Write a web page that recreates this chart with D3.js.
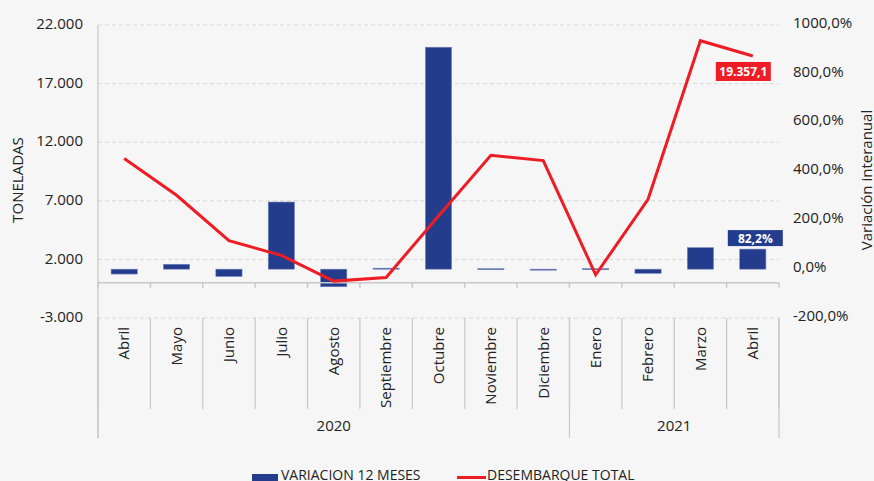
<!DOCTYPE html>
<html>
<head>
<meta charset="utf-8">
<script src="https://cdn.jsdelivr.net/npm/d3@7"></script>
<style>
  body { margin: 0; background: #f6f6f6; }
  svg { display: block; font-family: "Open Sans", sans-serif; }
</style>
</head>
<body>
<div id="chart"></div>
<script>
// data
const months = ["Abril", "Mayo", "Junio", "Julio", "Agosto", "Septiembre", "Octubre",
  "Noviembre", "Diciembre", "Enero", "Febrero", "Marzo", "Abril"];
const years = ["2020", "2021"];
const yearCounts = [9, 4];
const variacion = [-20, 20, -30, 275, -72, 4, 909, 2, -3, 2, -17, 88, 82.2];   // %
const desembarque = [10607, 7470, 3598, 2342, 148, 462, 5700, 10889, 10433, 689, 7128, 20661, 19357.1]; // toneladas
const leftTicks = [-3000, 2000, 7000, 12000, 17000, 22000];
const rightTicks = [-200, 0, 200, 400, 600, 800, 1000];

const width = 874;
const height = 481;
const plotL = 98, plotR = 779, plotT = 25, plotB = 318;

const loc = d3.formatLocale({decimal: ",", thousands: ".", grouping: [3], currency: ["", ""], minus: "-"});
const fmtTon = loc.format(",.0f");
const fmtPct = loc.format(".1f");
const fmtTonLabel = loc.format(",.1f");

const svg = d3.select("#chart")
  .append("svg")
  .attr("width", width)
  .attr("height", height);

svg.append("rect").attr("width", width).attr("height", height).attr("fill", "#f6f6f6");

const xScale = d3.scaleBand()
  .domain(d3.range(months.length))
  .range([plotL, plotR]);

const yLeft = d3.scaleLinear()
  .domain([-3000, 22000])
  .range([plotB, plotT]);

const yRight = d3.scaleLinear()
  .domain([-200, 1000])
  .range([plotB, plotT]);

// gridlines
svg.append("g")
  .selectAll("line")
  .data(leftTicks)
  .join("line")
  .attr("x1", plotL)
  .attr("x2", plotR)
  .attr("y1", d => yLeft(d))
  .attr("y2", d => yLeft(d))
  .attr("stroke", "#d8d8d8")
  .attr("stroke-dasharray", "4,3");

// left axis
const gLeft = svg.append("g")
  .attr("transform", `translate(${plotL},0)`)
  .call(d3.axisLeft(yLeft).tickValues(leftTicks).tickFormat(fmtTon).tickSize(0).tickPadding(15));
gLeft.select(".domain").remove();
gLeft.selectAll("text").attr("font-size", 15).attr("fill", "#222").attr("font-family", "Open Sans").attr("dy", "0.25em");

// right axis
const gRight = svg.append("g")
  .attr("transform", `translate(${plotR},0)`)
  .call(d3.axisRight(yRight).tickValues(rightTicks).tickFormat(d => fmtPct(d) + "%").tickSize(0).tickPadding(14));
gRight.select(".domain").remove();
gRight.selectAll("text").attr("font-size", 15).attr("fill", "#222").attr("font-family", "Open Sans").attr("dy", "0.15em");

// axis titles
svg.append("text")
  .attr("transform", `translate(23,180) rotate(-90)`)
  .attr("text-anchor", "middle")
  .attr("font-size", 15)
  .attr("fill", "#222")
  .text("TONELADAS");

svg.append("text")
  .attr("transform", `translate(872,180) rotate(-90)`)
  .attr("text-anchor", "middle")
  .attr("font-size", 15)
  .attr("fill", "#222")
  .text("Variación interanual");

// bars
const barW = xScale.bandwidth() * 0.5;
svg.append("g")
  .selectAll("rect")
  .data(variacion)
  .join("rect")
  .attr("x", (d, i) => xScale(i) + (xScale.bandwidth() - barW) / 2)
  .attr("y", d => yRight(Math.max(0, d)))
  .attr("width", barW)
  .attr("height", d => Math.max(1, Math.abs(yRight(d) - yRight(0))))
  .attr("fill", "#233d8c")
  .attr("stroke", "#7686bd")
  .attr("stroke-width", 0.6);

// category axis
const y0 = yLeft(0);
svg.append("line")
  .attr("x1", plotL).attr("x2", plotR)
  .attr("y1", y0).attr("y2", y0)
  .attr("stroke", "#c8c8c8").attr("stroke-width", 1.5);

const bounds = d3.range(months.length + 1).map(i => i < months.length ? xScale(i) : plotR);
svg.append("g")
  .selectAll("line")
  .data(bounds)
  .join("line")
  .attr("x1", d => d).attr("x2", d => d)
  .attr("y1", y0).attr("y2", y0 + 5)
  .attr("stroke", "#c8c8c8").attr("stroke-width", 1.5);

// month separators below the plot
svg.append("g")
  .selectAll("line")
  .data(bounds)
  .join("line")
  .attr("x1", d => d).attr("x2", d => d)
  .attr("y1", plotB).attr("y2", 409)
  .attr("stroke", "#c8c8c8").attr("stroke-width", 1.2);

// year separators
let acc = 0;
const yearBounds = [plotL];
yearCounts.forEach(c => { acc += c; yearBounds.push(acc < months.length ? xScale(acc) : plotR); });
svg.append("g")
  .selectAll("line")
  .data(yearBounds)
  .join("line")
  .attr("x1", d => d).attr("x2", d => d)
  .attr("y1", plotB).attr("y2", 438)
  .attr("stroke", "#c8c8c8").attr("stroke-width", 1.2);

// left axis line
svg.append("line")
  .attr("x1", plotL).attr("x2", plotL)
  .attr("y1", plotT).attr("y2", 438)
  .attr("stroke", "#c8c8c8").attr("stroke-width", 1.2);

// month labels
svg.append("g")
  .selectAll("text")
  .data(months)
  .join("text")
  .attr("transform", (d, i) => `translate(${xScale(i) + xScale.bandwidth() / 2},327) rotate(-90)`)
  .attr("text-anchor", "end")
  .attr("dy", "0.35em")
  .attr("font-size", 15)
  .attr("fill", "#222")
  .text(d => d);

// year labels
svg.append("g")
  .selectAll("text")
  .data(years)
  .join("text")
  .attr("x", (d, i) => (yearBounds[i] + yearBounds[i + 1]) / 2)
  .attr("y", 431)
  .attr("text-anchor", "middle")
  .attr("font-size", 15)
  .attr("fill", "#222")
  .text(d => d);

// line
const line = d3.line()
  .x((d, i) => xScale(i) + xScale.bandwidth() / 2)
  .y(d => yLeft(d));

svg.append("path")
  .datum(desembarque)
  .attr("d", line)
  .attr("fill", "none")
  .attr("stroke", "#ee1c25")
  .attr("stroke-width", 3);

// data labels (last point)
const last = months.length - 1;
const cx = xScale(last) + xScale.bandwidth() / 2;

svg.append("rect")
  .attr("x", cx - 37).attr("y", yLeft(desembarque[last]) + 6)
  .attr("width", 55).attr("height", 19)
  .attr("fill", "#ee1c25");
svg.append("text")
  .attr("x", cx - 9.5).attr("y", yLeft(desembarque[last]) + 20)
  .attr("text-anchor", "middle")
  .attr("font-size", 12)
  .attr("font-weight", "bold")
  .attr("fill", "#fff")
  .text(fmtTonLabel(desembarque[last]));

svg.append("rect")
  .attr("x", cx - 25).attr("y", yRight(variacion[last]) - 19)
  .attr("width", 55).attr("height", 16)
  .attr("fill", "#233d8c");
svg.append("text")
  .attr("x", cx + 2.5).attr("y", yRight(variacion[last]) - 6.5)
  .attr("text-anchor", "middle")
  .attr("font-size", 12)
  .attr("font-weight", "bold")
  .attr("fill", "#fff")
  .text(fmtPct(variacion[last]) + "%");

// legend
const legend = svg.append("g");
legend.append("rect")
  .attr("x", 252).attr("y", 474).attr("width", 26).attr("height", 10)
  .attr("fill", "#233d8c");
legend.append("text")
  .attr("x", 281).attr("y", 480)
  .attr("font-size", 14)
  .attr("fill", "#222")
  .text("VARIACION 12 MESES");
legend.append("line")
  .attr("x1", 457).attr("x2", 486).attr("y1", 477.5).attr("y2", 477.5)
  .attr("stroke", "#ee1c25").attr("stroke-width", 3);
legend.append("text")
  .attr("x", 487).attr("y", 480)
  .attr("font-size", 14)
  .attr("fill", "#222")
  .text("DESEMBARQUE TOTAL");
</script>
</body>
</html>
